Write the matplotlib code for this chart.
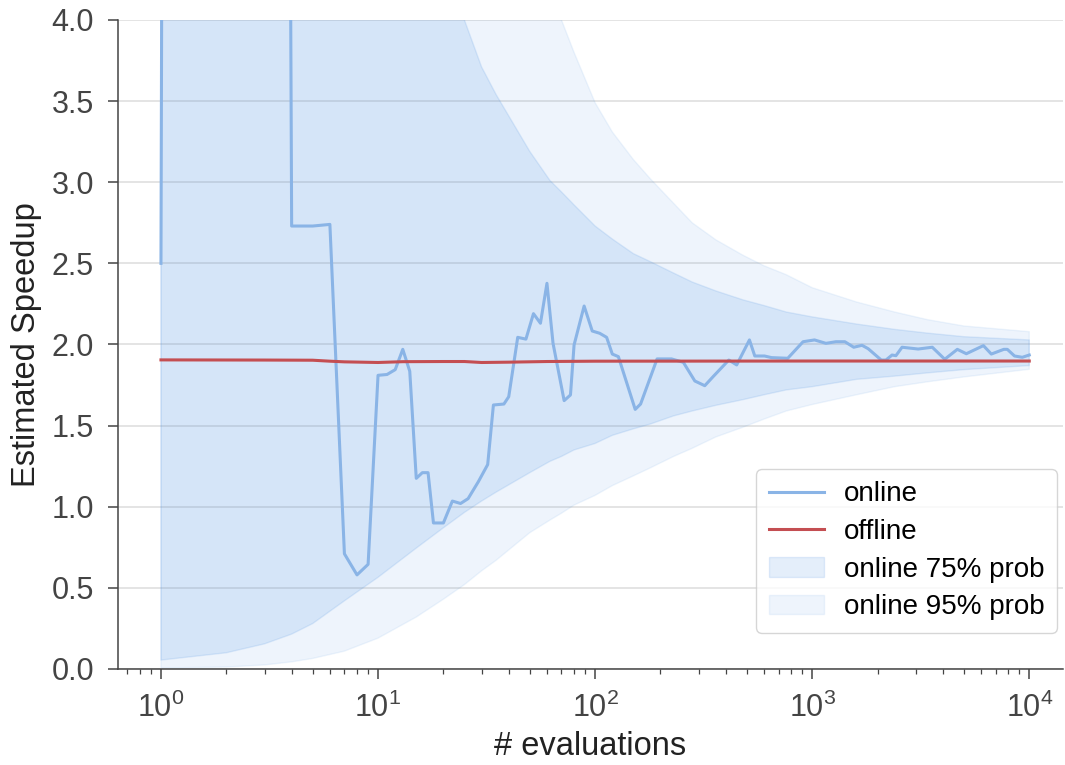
import matplotlib.pyplot as plt
from matplotlib.ticker import MultipleLocator, FormatStrFormatter

plt.rcParams['font.family'] = ['Liberation Sans', 'DejaVu Sans']
plt.rcParams['mathtext.fontset'] = 'custom'
plt.rcParams['mathtext.rm'] = 'Liberation Sans'
plt.rcParams['mathtext.it'] = 'Liberation Sans:italic'
plt.rcParams['mathtext.bf'] = 'Liberation Sans:bold'

# running estimate of the speedup after n evaluations
evals = [1, 2, 3, 4, 5, 6, 7, 8, 9, 10,
         11, 12, 13, 14, 15, 16, 17, 18, 19, 20,
         22, 24, 26, 29, 32, 34, 38, 40,
         44, 48, 52, 56, 60, 64, 72, 77, 80, 89,
         97, 105, 113, 120, 128, 153, 162, 193, 225, 255,
         288, 320, 352, 413, 449, 514, 544, 603, 650, 772,
         908, 1025, 1157, 1286, 1414, 1554, 1697, 1811, 2081, 2186,
         2333, 2431, 2594, 3077, 3575, 4080, 4663, 5130, 6150, 6687,
         7634, 7925, 8553, 9289, 10000]
online = [2.50, 150.0, 40.0, 2.73, 2.73, 2.74, 0.71, 0.58, 0.645, 1.81,
          1.815, 1.845, 1.97, 1.835, 1.175, 1.21, 1.21, 0.90, 0.90, 0.90,
          1.035, 1.02, 1.05, 1.155, 1.26, 1.627, 1.633, 1.678,
          2.044, 2.033, 2.19, 2.131, 2.377, 2.007, 1.654, 1.689, 1.997, 2.237,
          2.083, 2.069, 2.044, 1.941, 1.925, 1.600, 1.633, 1.911, 1.911, 1.890,
          1.775, 1.746, 1.806, 1.904, 1.874, 2.028, 1.929, 1.929, 1.919, 1.915,
          2.017, 2.028, 2.007, 2.017, 2.017, 1.983, 1.995, 1.974, 1.904, 1.904,
          1.935, 1.931, 1.983, 1.972, 1.983, 1.909, 1.970, 1.943, 1.993, 1.941,
          1.970, 1.970, 1.929, 1.921, 1.935]

off_evals = [1, 3, 5, 6, 7, 10, 13, 20, 25, 30, 40, 60, 100, 1000, 10000]
offline = [1.905, 1.904, 1.903, 1.897, 1.893, 1.889, 1.894, 1.895, 1.895,
           1.889, 1.891, 1.895, 1.897, 1.898, 1.898]

# credible intervals of the online estimate
band_evals = [1, 2, 3, 4, 5, 7, 10, 15, 20, 25, 30, 35, 50, 62, 70, 80,
              100, 120, 150, 180, 230, 280, 360, 480, 600, 760, 1000,
              1600, 2400, 3400, 5000, 10000]
lo75 = [0.055, 0.10, 0.155, 0.215, 0.28, 0.42, 0.565, 0.745, 0.87, 0.965,
        1.035, 1.09, 1.21, 1.28, 1.31, 1.35, 1.39, 1.44, 1.48, 1.51, 1.56,
        1.59, 1.625, 1.66, 1.69, 1.72, 1.74, 1.785, 1.805, 1.825, 1.845, 1.87]
hi75 = [60, 30, 20, 15, 12, 9, 7, 5.3, 4.5, 4.0, 3.71, 3.54, 3.19, 3.01,
        2.94, 2.86, 2.73, 2.65, 2.56, 2.51, 2.44, 2.385, 2.33, 2.275, 2.24,
        2.20, 2.17, 2.126, 2.093, 2.07, 2.048, 2.028]
lo95 = [0.006, 0.012, 0.025, 0.044, 0.065, 0.11, 0.19, 0.32, 0.43, 0.52,
        0.605, 0.67, 0.84, 0.918, 0.96, 1.01, 1.07, 1.13, 1.19, 1.24, 1.31,
        1.36, 1.43, 1.49, 1.54, 1.59, 1.63, 1.69, 1.74, 1.77, 1.80, 1.847]
hi95 = [200, 80, 50, 35, 28, 20, 15, 10, 8, 6.8, 6.0, 5.5, 4.7, 4.25, 4.0,
        3.80, 3.49, 3.31, 3.14, 3.02, 2.87, 2.75, 2.645, 2.55, 2.485, 2.43,
        2.35, 2.262, 2.20, 2.153, 2.114, 2.079]

blue = '#4a90e2'
red = '#c44e52'
dark = '#444444'

fig = plt.figure(figsize=(10.65, 7.65), dpi=100)
ax = fig.add_axes([0.1108, 0.1255, 0.8873, 0.8484])

f95 = ax.fill_between(band_evals, lo95, hi95, color=blue, alpha=0.09,
                      label='online 95% prob', zorder=1)
f75 = ax.fill_between(band_evals, lo75, hi75, color=blue, alpha=0.15,
                      label='online 75% prob', zorder=1)
l_on, = ax.plot(evals, online, color='#8ab4e6', lw=2.2, label='online', zorder=3)
l_off, = ax.plot(off_evals, offline, color=red, lw=2.2, label='offline', zorder=4)

ax.set_xscale('log')
ax.set_xlim(0.634, 14300)
ax.set_ylim(0, 4)
ax.yaxis.set_major_locator(MultipleLocator(0.5))
ax.yaxis.set_major_formatter(FormatStrFormatter('%.1f'))

ax.grid(axis='y', color='#dddddd', lw=1.1)
ax.grid(axis='x', visible=False, which='both')
ax.set_axisbelow(True)
for side in ['top', 'right']:
    ax.spines[side].set_visible(False)
for side in ['left', 'bottom']:
    ax.spines[side].set_color(dark)
    ax.spines[side].set_linewidth(1.1)

ax.tick_params(which='major', direction='out', length=7.2, width=1.1,
               color=dark, labelcolor=dark, labelsize=22, pad=10)
ax.tick_params(which='minor', direction='out', length=3.6, width=0.9, color=dark)

ax.set_xlabel('# evaluations', fontsize=23.5, color='#222222', labelpad=5)
ax.set_ylabel('Estimated Speedup', fontsize=23.5, color='#222222', labelpad=7)

ax.legend(handles=[l_on, l_off, f75, f95], loc='lower right',
          bbox_to_anchor=(0.9937, 0.0555), borderaxespad=0, fontsize=20,
          edgecolor='#cccccc', labelspacing=0.42, borderpad=0.45,
          handlelength=2.0, handletextpad=0.7)

fig.savefig('out.png', dpi=100)
